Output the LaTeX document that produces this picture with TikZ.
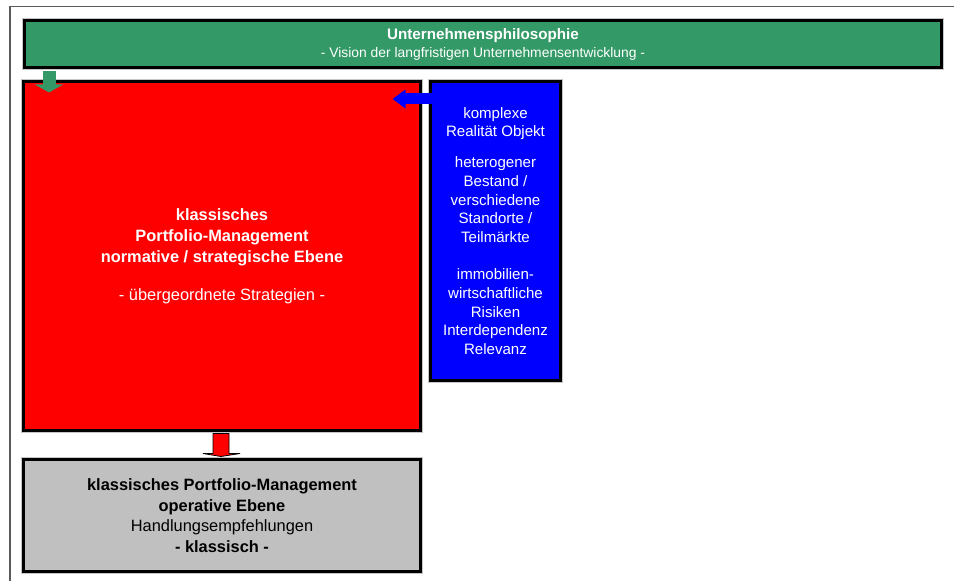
\documentclass[tikz,border=0pt]{standalone}
\usepackage{fontspec}
\setmainfont{Liberation Sans}
\usetikzlibrary{arrows.meta,calc}
\definecolor{philgreen}{RGB}{51,153,102}
\definecolor{boxgray}{RGB}{192,192,192}
\definecolor{framegray}{RGB}{90,90,90}
\begin{document}
\begin{tikzpicture}[x=0.75pt,y=-0.75pt,
  box/.style={rectangle, draw=black, line width=2.25pt, inner sep=0pt, align=center,
    preaction={draw=gray!45, line width=3.6pt}},
  blockarrow/.style={line width=#1},
]
\useasboundingbox (0,0) rectangle (954,581);
% outer frame
\draw[framegray, line width=0.9pt] (954,6.5) -- (10,6.5) -- (10,581);

% boxes
\node[box, fill=red, text=white, minimum width=297.75pt, minimum height=261.75pt,
  font=\fontsize{12.3}{15.75}\selectfont] (strat) at (222,256)
  {\textbf{klassisches}\\\textbf{Portfolio-Management}\\\textbf{normative / strategische Ebene}\\[12.75pt]- übergeordnete Strategien -};

\node[box, fill=philgreen, text=white, minimum width=687.75pt, minimum height=35.25pt,
  font=\fontsize{11.4}{13.5}\selectfont] (phil) at (483,44)
  {\textbf{Unternehmensphilosophie}\\{\fontsize{10.4}{13.5}\selectfont - Vision der langfristigen Unternehmensentwicklung -}};

\node[box, fill=blue, text=white, minimum width=97.5pt, minimum height=224.25pt,
  font=\fontsize{11.3}{14}\selectfont] (risk) at (495.5,231)
  {komplexe\\Realität Objekt\\[9.2pt]heterogener\\Bestand /\\verschiedene\\Standorte /\\Teilmärkte\\[14pt]immobilien-\\wirtschaftliche\\Risiken\\Interdependenz\\Relevanz};

\node[box, fill=boxgray, text=black, minimum width=297.75pt, minimum height=84pt,
  font=\fontsize{12.3}{15.4}\selectfont] (ops) at (222,515.5)
  {\textbf{klassisches Portfolio-Management}\\\textbf{operative Ebene}\\Handlungsempfehlungen\\\textbf{- klassisch -}};

% arrows
\draw[philgreen, line width=9.75pt, -{Triangle[width=21pt,length=6pt]}]
  ($(phil.south west)+(26,2)$) -- ($(strat.north west)+(27,12.5)$);

\draw[blue, line width=8.25pt, -{Triangle[width=13.5pt,length=9.75pt]}]
  ($(risk.north west)+(9.5,19)$) -- ($(strat.north east)+(-29.5,19)$);

\draw[fill=red, draw=black, line width=0.6pt]
  ($(strat.south)+(-9,1.5)$) -- ($(strat.south)+(-9,21.5)$) -- ($(strat.south)+(-19,21.5)$)
  -- ($(ops.north)+(-1,-1.5)$) -- ($(strat.south)+(18,21.5)$) -- ($(strat.south)+(7,21.5)$)
  -- ($(strat.south)+(7,1.5)$) -- cycle;
\end{tikzpicture}
\end{document}
